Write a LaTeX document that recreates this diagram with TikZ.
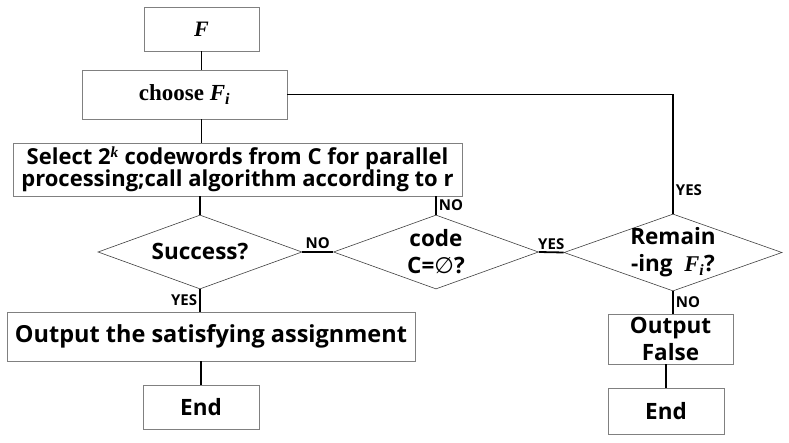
\documentclass[tikz,border=0pt]{standalone}
\usepackage{fontspec}
\setmainfont{Liberation Serif}
\newfontfamily\uifont{Open Sans}
\newfontfamily\symfont{DejaVu Sans}
\usetikzlibrary{shapes.geometric}

\tikzset{
  bigtext/.style={font=\uifont\bfseries\fontsize{22.5}{27}\selectfont,align=center},
  stepbox/.style={draw=gray,line width=0.8pt,inner sep=0pt,bigtext},
  testbox/.style={diamond,draw=black!75,line width=0.6pt,inner sep=0pt},
  flow/.style={line width=1.8pt},
  tag/.style={font=\uifont\bfseries\fontsize{15}{17}\selectfont,inner sep=2pt}
}

\begin{document}
\begin{tikzpicture}[x=1pt,y=-1pt]
\useasboundingbox (0,0) rectangle (789,443);

% boxes of the main branch
\node[stepbox,minimum width=115,minimum height=44,
  font=\bfseries\itshape\fontsize{22}{26}\selectfont] (F) at (201.5,29) {F};
\node[stepbox,minimum width=205,minimum height=49,
  font=\bfseries\fontsize{23}{26}\selectfont] (choose) at (184.5,94.5)
  {choose \textit{F}\textsubscript{\textit{i}}};
\node[stepbox,minimum width=449,minimum height=53,
  font=\uifont\bfseries\fontsize{22}{22}\selectfont] (select) at (237.5,169.5)
  {Select 2\textsuperscript{\rmfamily\itshape k} codewords from C for parallel\\
   processing;call algorithm according to r};

% decisions
\node[testbox,minimum width=204,minimum height=74,
  label={[bigtext]center:Success?}] (succ) at (200,252) {};
\node[testbox,minimum width=205,minimum height=74,
  label={[bigtext]center:code\\C={\symfont\mdseries ∅}?}] (code) at (436,252) {};
\node[testbox,minimum width=218,minimum height=77,
  label={[bigtext]center:Remain\\-ing~~{\rmfamily\itshape F}\textsubscript{\rmfamily\itshape i}?}] (remain) at (673,252.5) {};

% outputs
\node[stepbox,minimum width=408,minimum height=49,
  font=\uifont\bfseries\fontsize{23.5}{27}\selectfont] (out) at (211,336.5)
  {Output the satisfying assignment};
\node[stepbox,minimum width=116,minimum height=44] (end1) at (201,407) {End};
\node[stepbox,minimum width=125,minimum height=50] (false) at (670.5,339)
  {Output\\False};
\node[stepbox,minimum width=116,minimum height=46] (end2) at (666,411) {End};

% connectors
\draw[flow] (F.south) -- (F.south |- choose.north);
\draw[flow] (F.south |- choose.south) -- (F.south |- select.north);
\draw[flow] (succ.north |- select.south) -- (succ.north);
\draw[flow] (succ.east) -- node[tag,above]{NO} (code.west);
\draw[flow] (code.north |- select.south) -- node[tag,right]{NO} (code.north);
\draw[flow] (code.east) -- node[tag,above]{YES} (remain.west);
\draw[flow] (remain.north) -- node[tag,right,pos=0.2]{YES}
  (remain.north |- choose.east) -- (choose.east);
\draw[flow] (remain.south) -- node[tag,right]{NO} (remain.south |- false.north);
\draw[flow] (end2.north |- false.south) -- (end2.north);
\draw[flow] (succ.south) -- node[tag,left]{YES} (succ.south |- out.north);
\draw[flow] (end1.north |- out.south) -- (end1.north);

\end{tikzpicture}
\end{document}
